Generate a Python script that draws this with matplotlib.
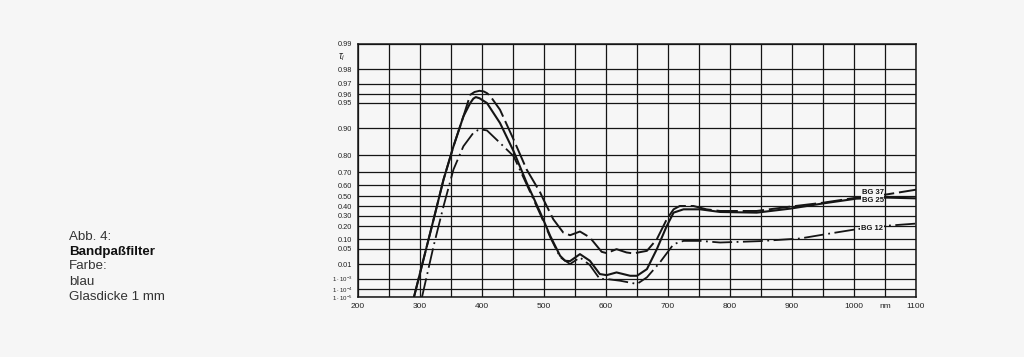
import numpy as np
import matplotlib
matplotlib.use("Agg")
import matplotlib.pyplot as plt
from matplotlib.ticker import NullLocator

plt.rcParams['font.family'] = ['Liberation Sans', 'DejaVu Sans']
plt.rcParams['mathtext.fontset'] = 'custom'
plt.rcParams['mathtext.rm'] = 'Liberation Sans'
plt.rcParams['mathtext.it'] = 'Liberation Sans:italic'

# Reintransmissionsgrad tau_i, Glasdicke 1 mm
bg37_nm = [290, 322, 338, 354, 370, 381, 388, 396, 403, 408, 413, 429, 451, 472,
           494, 499, 515, 531, 542, 558, 574, 593, 601, 617, 633, 644, 666, 682,
           698, 709, 719, 741, 762, 784, 843, 897, 951, 1004, 1053, 1096, 1100]
bg37_t = [8e-6, 0.2665, 0.6464, 0.8409, 0.9273, 0.9595, 0.9625, 0.9637, 0.9630,
          0.9613, 0.9584, 0.9393, 0.8660, 0.7184, 0.5321, 0.468, 0.2665, 0.1477,
          0.1273, 0.1557, 0.1112, 0.0379, 0.0335, 0.0479, 0.0358, 0.0326, 0.0414,
          0.100, 0.2665, 0.367, 0.401, 0.401, 0.367, 0.350, 0.350, 0.3945, 0.435,
          0.4845, 0.516, 0.556, 0.56]

bg25_nm = [290, 322, 338, 354, 370, 381, 386, 390, 396, 408, 429, 451, 472, 494,
           510, 526, 534, 542, 558, 574, 590, 601, 617, 639, 650, 666, 682, 698,
           709, 725, 752, 784, 843, 897, 951, 1004, 1053, 1100]
bg25_t = [8e-6, 0.2665, 0.6464, 0.8409, 0.9273, 0.9493, 0.9550, 0.9569, 0.9555,
          0.9493, 0.9134, 0.8195, 0.6200, 0.3334, 0.1223, 0.0258, 0.0150, 0.0144,
          0.0305, 0.0150, 0.0023, 0.0019, 0.0030, 0.0017, 0.0017, 0.0050, 0.048,
          0.203, 0.333, 0.367, 0.367, 0.340, 0.333, 0.374, 0.428, 0.475, 0.485,
          0.478]

bg12_nm = [303, 322, 338, 354, 370, 386, 393, 400, 408, 429, 451, 472, 494, 510,
           526, 542, 558, 574, 590, 601, 623, 650, 666, 687, 709, 725, 752, 784,
           848, 913, 961, 1004, 1047, 1100]
bg12_t = [8e-6, 0.0625, 0.4006, 0.7184, 0.8409, 0.8874, 0.8950, 0.8967, 0.8945,
          0.8541, 0.7957, 0.6059, 0.3161, 0.1133, 0.0225, 0.0100, 0.0218, 0.0088,
          0.00093, 0.00093, 0.00066, 0.00033, 0.00128, 0.0124, 0.071, 0.0895,
          0.0895, 0.080, 0.088, 0.1046, 0.140, 0.1747, 0.203, 0.225]

y_ticks = [1e-5, 1e-4, 1e-3, 0.01, 0.05, 0.10, 0.20, 0.30, 0.40, 0.50, 0.60,
           0.70, 0.80, 0.90, 0.95, 0.96, 0.97, 0.98, 0.99]
y_tick_labels = [r'$1\cdot10^{-5}$', r'$1\cdot10^{-4}$', r'$1\cdot10^{-3}$',
                 '0.01', '0.05', '0.10', '0.20', '0.30', '0.40', '0.50', '0.60',
                 '0.70', '0.80', '0.90', '0.95', '0.96', '0.97', '0.98', '0.99']
x_ticks = list(range(200, 1101, 50))
x_tick_labels = ['200', '', '300', '', '400', '', '500', '', '600', '', '700', '',
                 '800', '', '900', '', '1000', 'nm', '1100']


def fwd(t):
    t = np.clip(np.asarray(t, dtype=float), 1e-12, 1 - 1e-12)
    return -np.log10(-np.log(t))


def inv(f):
    return np.exp(-10.0 ** (-np.asarray(f, dtype=float)))


bg = '#f6f6f6'
ink = '#151515'

fig = plt.figure(figsize=(10.24, 3.57), dpi=100, facecolor=bg)
ax = fig.add_axes([358 / 1024, 1 - 297 / 357, 558 / 1024, 253 / 357])
ax.set_facecolor(bg)
ax.set_yscale('function', functions=(fwd, inv))
ax.set_xlim(200, 1100)
ax.set_ylim(1e-5, 0.99)

ax.set_yticks(y_ticks)
ax.set_yticklabels(y_tick_labels)
ax.yaxis.set_minor_locator(NullLocator())
ax.set_xticks(x_ticks)
ax.set_xticklabels(x_tick_labels)
ax.tick_params(axis='x', length=0, labelsize=6, colors='#222', pad=4)
ax.tick_params(axis='y', length=0, labelsize=5.3, colors='#222', pad=4)
for t in ax.get_yticklabels()[:3]:
    t.set_fontsize(4.4)
ax.grid(True, color=ink, lw=0.9)
ax.set_axisbelow(True)
for s in ax.spines.values():
    s.set_linewidth(1.1)
    s.set_color(ink)

ax.plot(bg37_nm, bg37_t, color=ink, lw=1.4, dashes=(11, 2.5))
ax.plot(bg25_nm, bg25_t, color=ink, lw=1.5)
ax.plot(bg12_nm, bg12_t, color=ink, lw=1.3, dashes=(11, 2.5, 1, 2.5))

lab = dict(fontsize=5.5, fontweight='bold', ha='center', va='center', color=ink,
           bbox=dict(facecolor=bg, edgecolor='none', pad=0.6))
ax.text(1030, 0.535, 'BG 37', **lab)
ax.text(1030, 0.458, 'BG 25', **lab)
ax.text(1029, 0.179, 'BG 12', **lab)

fig.text(338 / 1024, 1 - 57 / 357, r'$\tau_i$', fontsize=7, va='center', color='#222')

tx = 69 / 1024
fig.text(tx, 1 - 240 / 357, 'Abb. 4:', fontsize=9.6, color='#333', va='baseline')
fig.text(tx, 1 - 254.5 / 357, 'Bandpaßfilter', fontsize=9.6, fontweight='bold',
         color='#111', va='baseline')
fig.text(tx, 1 - 269.3 / 357, 'Farbe:', fontsize=9.6, color='#333', va='baseline')
fig.text(tx, 1 - 285 / 357, 'blau', fontsize=9.6, color='#333', va='baseline')
fig.text(tx, 1 - 300 / 357, 'Glasdicke 1 mm', fontsize=9.6, color='#333', va='baseline')

fig.savefig('out.png', dpi=100, facecolor=bg)
